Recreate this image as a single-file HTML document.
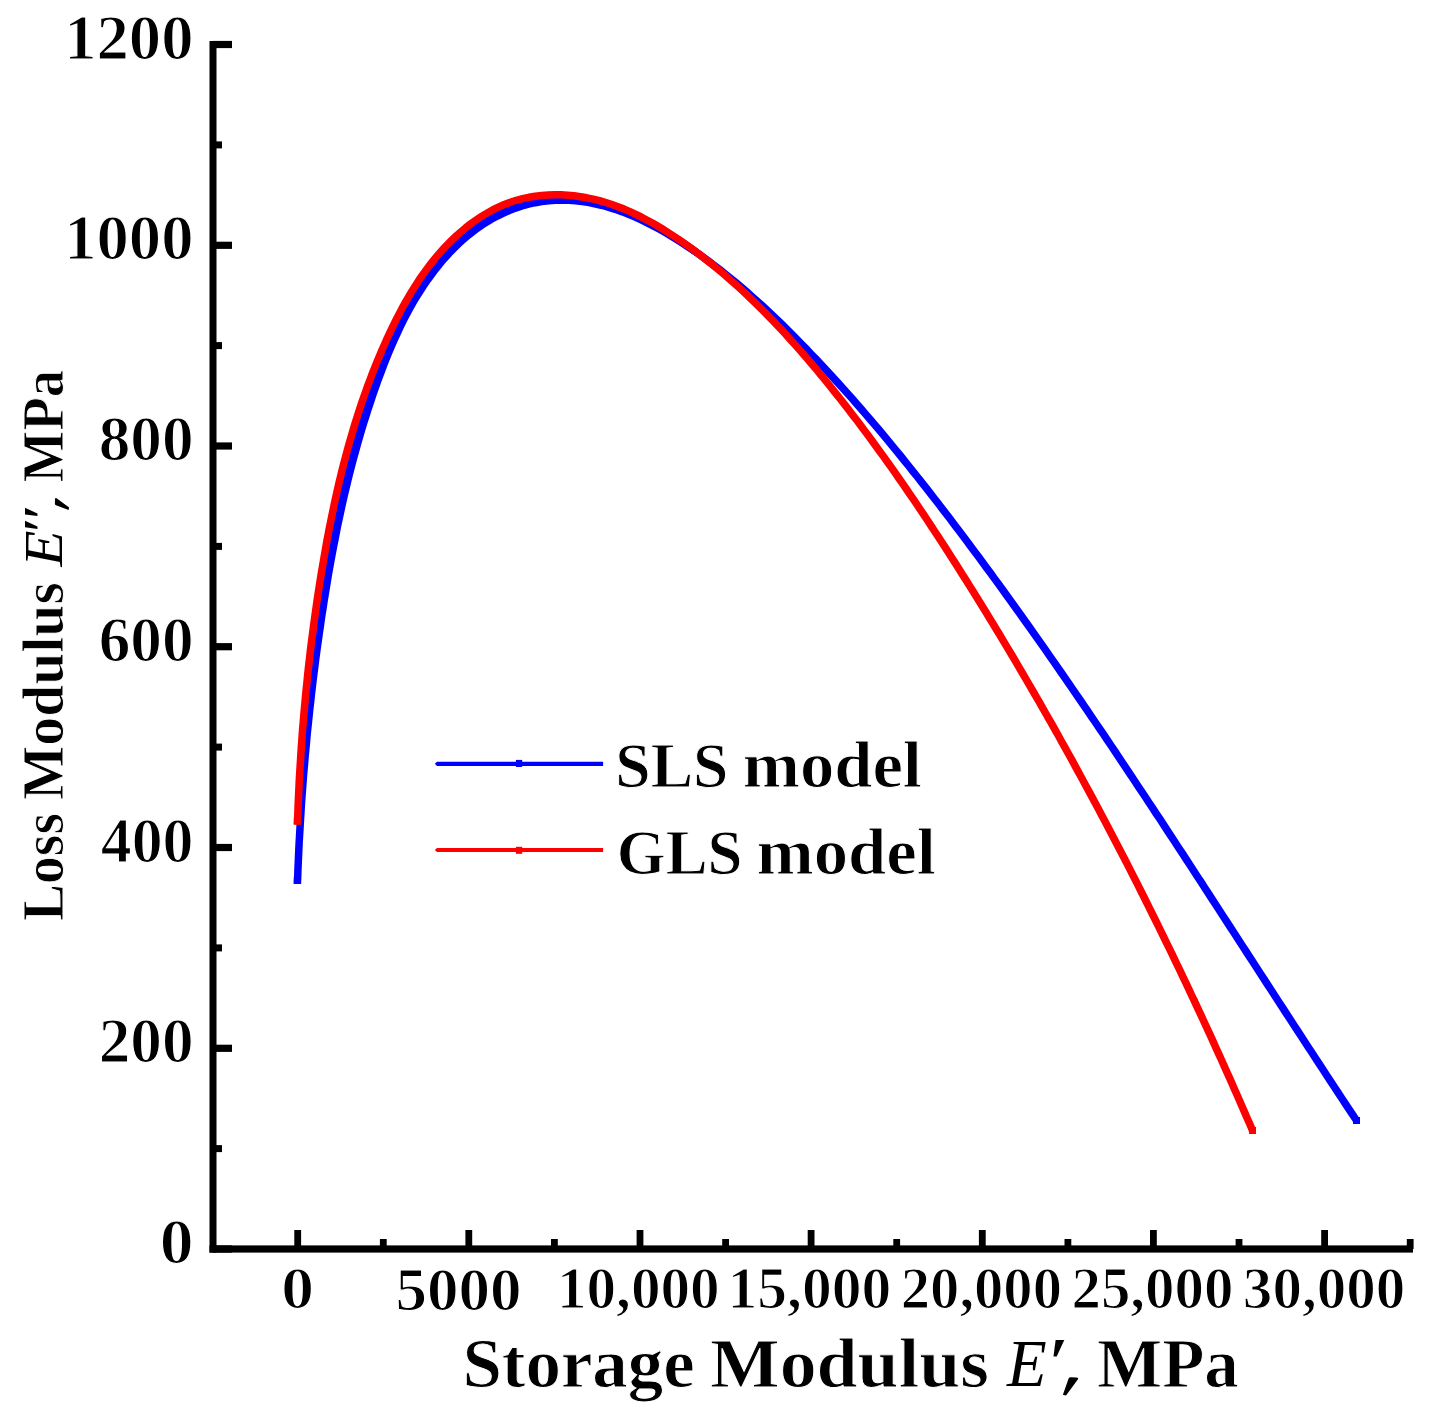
<!DOCTYPE html>
<html><head><meta charset="utf-8"><title>Cole-Cole</title>
<style>
html,body{margin:0;padding:0;background:#fff;}
body{width:1434px;height:1417px;overflow:hidden;}
svg{display:block;}
text{font-family:"Liberation Serif",serif;font-weight:bold;fill:#000;}
text.i{font-style:italic;}
text.n{font-weight:normal;}
text.t{stroke:#fff;}
</style></head><body>
<svg width="1434" height="1417" viewBox="0 0 1434 1417">
<rect x="0" y="0" width="1434" height="1417" fill="#fff"/>
<g fill="none" stroke-width="7.5" stroke-linejoin="round" stroke-linecap="butt">
<path stroke="#0000ff" d="M297.4,883.9 L297.7,877.1 L297.9,870.4 L298.2,863.6 L298.5,856.9 L298.8,850.1 L299.1,843.3 L299.5,836.6 L299.9,829.8 L300.3,823.0 L300.7,816.2 L301.1,809.5 L301.5,802.7 L302.0,795.9 L302.5,789.2 L303.0,782.4 L303.5,775.6 L304.1,768.8 L304.7,762.1 L305.2,755.3 L305.9,748.5 L306.5,741.8 L307.1,735.0 L307.8,728.2 L308.5,721.5 L309.2,714.7 L309.9,707.9 L310.7,701.2 L311.4,694.4 L312.2,687.7 L313.0,680.9 L313.8,674.2 L314.7,667.5 L315.5,660.7 L316.4,654.0 L317.3,647.2 L318.3,640.5 L319.2,633.8 L320.2,627.1 L321.1,620.4 L322.1,613.7 L323.2,607.0 L324.2,600.3 L325.3,593.6 L326.4,586.9 L327.5,580.2 L328.6,573.5 L329.8,566.8 L331.0,560.2 L332.2,553.5 L333.5,546.9 L334.8,540.2 L336.1,533.6 L337.4,526.9 L338.8,520.3 L340.2,513.7 L341.6,507.1 L343.1,500.5 L344.6,493.9 L346.2,487.3 L347.8,480.7 L349.4,474.2 L351.1,467.6 L352.8,461.1 L354.6,454.5 L356.4,448.0 L358.2,441.5 L360.1,434.9 L362.0,428.4 L364.0,421.9 L366.1,415.5 L368.1,409.0 L370.3,402.5 L372.4,396.1 L374.7,389.6 L376.9,383.2 L379.3,376.8 L381.7,370.4 L384.1,364.0 L386.6,357.6 L389.2,351.3 L391.9,345.0 L394.7,338.8 L397.5,332.6 L400.4,326.4 L403.4,320.3 L406.6,314.3 L409.8,308.3 L413.1,302.4 L416.6,296.6 L420.2,290.9 L423.9,285.2 L427.7,279.7 L431.7,274.2 L435.8,268.8 L440.0,263.6 L444.4,258.4 L448.9,253.4 L453.6,248.6 L458.5,243.8 L463.5,239.3 L468.6,234.9 L474.0,230.8 L479.4,226.8 L485.1,223.0 L490.9,219.5 L496.8,216.3 L502.9,213.3 L509.2,210.6 L515.5,208.1 L522.0,206.0 L528.5,204.2 L535.1,202.7 L541.8,201.5 L548.5,200.7 L555.3,200.3 L562.1,200.1 L568.9,200.3 L575.7,200.8 L582.4,201.6 L589.2,202.6 L595.8,204.0 L602.4,205.5 L608.9,207.3 L615.3,209.3 L621.7,211.6 L627.9,214.0 L634.1,216.6 L640.2,219.4 L646.2,222.3 L652.2,225.4 L658.1,228.5 L664.0,231.8 L669.8,235.2 L675.6,238.7 L681.3,242.3 L686.9,246.0 L692.6,249.8 L698.2,253.6 L703.7,257.6 L709.2,261.6 L714.6,265.7 L720.0,269.8 L725.4,274.1 L730.7,278.4 L736.0,282.7 L741.3,287.2 L746.5,291.6 L751.6,296.2 L756.8,300.8 L761.9,305.4 L766.9,310.1 L771.9,314.8 L776.9,319.5 L781.9,324.3 L786.8,329.2 L791.6,334.0 L796.5,338.9 L801.3,343.8 L806.1,348.7 L810.8,353.7 L815.6,358.6 L820.2,363.6 L824.9,368.6 L829.5,373.6 L834.1,378.6 L838.7,383.6 L843.3,388.7 L847.8,393.7 L852.3,398.8 L856.8,403.9 L861.2,409.0 L865.6,414.1 L870.0,419.2 L874.4,424.4 L878.8,429.5 L883.1,434.7 L887.4,439.9 L891.7,445.1 L896.0,450.3 L900.3,455.5 L904.5,460.8 L908.7,466.0 L912.9,471.3 L917.1,476.5 L921.3,481.8 L925.5,487.1 L929.6,492.4 L933.7,497.7 L937.9,503.0 L942.0,508.4 L946.1,513.7 L950.2,519.1 L954.2,524.4 L958.3,529.8 L962.4,535.2 L966.4,540.6 L970.4,546.0 L974.5,551.4 L978.5,556.8 L982.5,562.2 L986.5,567.7 L990.5,573.1 L994.5,578.6 L998.5,584.0 L1002.5,589.5 L1006.4,595.0 L1010.4,600.5 L1014.3,606.0 L1018.3,611.5 L1022.2,617.0 L1026.1,622.5 L1030.1,628.0 L1034.0,633.6 L1037.9,639.1 L1041.8,644.7 L1045.7,650.2 L1049.6,655.8 L1053.5,661.3 L1057.3,666.9 L1061.2,672.5 L1065.1,678.1 L1068.9,683.7 L1072.8,689.3 L1076.6,694.9 L1080.5,700.5 L1084.3,706.1 L1088.1,711.7 L1091.9,717.3 L1095.8,723.0 L1099.6,728.6 L1103.4,734.2 L1107.2,739.9 L1111.0,745.5 L1114.8,751.2 L1118.6,756.8 L1122.3,762.5 L1126.1,768.1 L1129.9,773.8 L1133.7,779.5 L1137.4,785.2 L1141.2,790.8 L1145.0,796.5 L1148.7,802.2 L1152.5,807.9 L1156.2,813.6 L1160.0,819.2 L1163.7,824.9 L1167.4,830.6 L1171.2,836.3 L1174.9,842.0 L1178.6,847.7 L1182.4,853.4 L1186.1,859.1 L1189.8,864.8 L1193.5,870.5 L1197.2,876.2 L1201.0,881.9 L1204.7,887.7 L1208.4,893.4 L1212.1,899.1 L1215.8,904.8 L1219.5,910.5 L1223.2,916.2 L1226.9,921.9 L1230.6,927.6 L1234.3,933.3 L1238.0,939.0 L1241.7,944.7 L1245.4,950.4 L1249.1,956.1 L1252.8,961.8 L1256.5,967.5 L1260.2,973.2 L1263.9,978.9 L1267.6,984.6 L1271.3,990.3 L1275.0,996.0 L1278.7,1001.7 L1282.4,1007.4 L1286.1,1013.1 L1289.8,1018.8 L1293.5,1024.5 L1297.2,1030.1 L1300.9,1035.8 L1304.6,1041.5 L1308.3,1047.2 L1312.0,1052.8 L1315.7,1058.5 L1319.4,1064.1 L1323.1,1069.8 L1326.8,1075.5 L1330.5,1081.1 L1334.2,1086.7 L1337.9,1092.4 L1341.6,1098.0 L1345.3,1103.6 L1349.1,1109.3 L1352.8,1114.9 L1356.5,1120.5"/>
<path stroke="#0000ff" d="M299.5,810.6 L299.8,804.0 L300.2,797.4 L300.8,787.6 L301.2,781.0 L301.6,774.4 L302.1,767.8 L302.6,761.2 L303.1,754.6 L303.6,747.9 L304.1,741.3 L304.7,734.7 L305.3,728.1 L305.9,721.5 L306.5,714.9 L307.1,708.3 L307.8,701.7 L308.5,695.1 L309.2,688.4 L309.9,681.8 L310.7,675.2 L311.5,668.6 L312.6,658.8 L313.4,652.2 L314.3,645.6 L315.1,639.0 L316.0,632.5 L316.9,625.9 L317.9,619.3 L318.8,612.7 L319.8,606.2 L320.8,599.6 L321.8,593.1 L322.8,586.5 L323.9,580.0 L325.0,573.4 L326.1,566.9 L327.2,560.4 L328.4,553.8 L329.6,547.3 L330.8,540.8 L332.0,534.3 L333.9,524.7 L335.3,518.2 L336.6,511.7 L338.0,505.3 L339.4,498.8 L340.9,492.4 L342.4,485.9 L344.0,479.5 L345.5,473.1 L347.2,466.7 L348.8,460.3 L350.5,453.9 L352.3,447.6 L354.1,441.2 L355.9,434.8 L357.8,428.5 L359.7,422.2 L362.7,412.8 L364.7,406.5 L366.8,400.2 L369.0,394.0 L371.2,387.7 L373.5,381.5 L375.8,375.2 L378.2,369.0 L380.6,362.8 L383.1,356.7 L385.7,350.5 L388.3,344.4 L391.0,338.3 L393.8,332.3 L396.7,326.2 L401.2,317.4 L404.2,311.5 L407.4,305.6 L410.7,299.8 L414.1,294.1 L417.6,288.5 L421.2,283.0 L425.0,277.5 L428.8,272.1 L432.8,266.9 L436.9,261.7 L441.2,256.7 L445.6,251.7 L450.1,246.9 L454.8,242.3 L462.1,235.6 L467.2,231.4 L472.4,227.3 L477.8,223.4 L483.3,219.7 L488.9,216.3 L494.7,213.1 L500.7,210.2 L506.7,207.5 L512.9,205.2 L522.3,202.3 L528.7,200.7 L535.2,199.4 L541.7,198.5 L548.3,197.8 L554.9,197.5 L561.6,197.5 L568.2,197.8 L574.8,198.3 L581.4,199.1 L591.2,200.9 L597.7,202.3 L604.1,204.0 L610.4,205.9 L616.7,208.0 L622.9,210.3 L628.9,212.8 L635.0,215.5 L640.9,218.3 L646.7,221.2 L652.5,224.3 L658.3,227.5 L663.9,230.8 L669.5,234.3 L675.1,237.8 L680.6,241.4 L686.1,245.0 L691.5,248.8 L696.9,252.6"/>
<rect x="1353" y="1117" width="7" height="7" fill="#0000ff" stroke="none"/>
<rect x="293.8" y="876.9" width="7.2" height="7" fill="#0000ff" stroke="none"/>
<path stroke="#ff0000" d="M297.4,824.6 L297.7,818.2 L297.9,811.8 L298.1,805.3 L298.4,798.9 L298.7,792.5 L299.0,786.1 L299.3,779.6 L299.7,773.2 L300.1,766.7 L300.5,760.3 L300.9,753.8 L301.3,747.4 L301.8,740.9 L302.2,734.4 L302.7,728.0 L303.3,721.5 L303.8,715.1 L304.4,708.6 L305.0,702.1 L305.6,695.7 L306.2,689.2 L306.9,682.8 L307.5,676.3 L308.2,669.8 L308.9,663.4 L309.7,656.9 L310.4,650.5 L311.2,644.0 L312.0,637.6 L312.9,631.1 L313.7,624.7 L314.6,618.2 L315.5,611.8 L316.4,605.4 L317.3,599.0 L318.3,592.5 L319.3,586.1 L320.3,579.7 L321.3,573.3 L322.4,566.9 L323.5,560.6 L324.6,554.2 L325.7,547.8 L326.8,541.4 L328.0,535.1 L329.2,528.7 L330.5,522.4 L331.8,516.1 L333.1,509.7 L334.4,503.4 L335.8,497.1 L337.2,490.8 L338.6,484.6 L340.1,478.3 L341.6,472.0 L343.2,465.8 L344.8,459.6 L346.5,453.3 L348.2,447.1 L349.9,440.9 L351.7,434.7 L353.5,428.6 L355.4,422.4 L357.3,416.3 L359.3,410.1 L361.3,404.0 L363.4,397.9 L365.6,391.8 L367.7,385.8 L370.0,379.7 L372.3,373.7 L374.7,367.7 L377.1,361.7 L379.6,355.7 L382.1,349.7 L384.8,343.8 L387.4,337.8 L390.2,331.9 L393.0,326.1 L395.9,320.2 L398.9,314.4 L401.9,308.6 L405.1,302.9 L408.3,297.3 L411.6,291.7 L415.1,286.2 L418.6,280.7 L422.2,275.4 L426.0,270.1 L429.9,264.9 L433.9,259.9 L438.0,254.9 L442.3,250.1 L446.7,245.3 L451.2,240.7 L455.9,236.3 L460.7,232.0 L465.7,227.8 L470.8,223.8 L476.1,220.0 L481.5,216.4 L487.0,213.1 L492.6,209.9 L498.4,207.1 L504.3,204.5 L510.3,202.3 L516.4,200.3 L522.6,198.7 L528.9,197.3 L535.3,196.2 L541.7,195.5 L548.1,195.0 L554.6,194.8 L561.1,194.8 L567.5,195.2 L574.0,195.8 L580.4,196.7 L586.8,197.8 L593.2,199.2 L599.5,200.7 L605.8,202.5 L611.9,204.5 L618.0,206.7 L624.1,209.1 L630.0,211.6 L635.8,214.3 L641.6,217.2 L647.2,220.2 L652.9,223.3 L658.4,226.5 L663.9,229.8 L669.3,233.3 L674.7,236.8 L680.0,240.4 L685.3,244.1 L690.5,247.8 L695.7,251.6 L700.8,255.5 L705.9,259.5 L711.0,263.5 L716.0,267.6 L720.9,271.7 L725.9,275.9 L730.7,280.2 L735.6,284.5 L740.4,288.8 L745.2,293.2 L749.9,297.7 L754.6,302.2 L759.2,306.8 L763.8,311.4 L768.4,316.0 L772.9,320.7 L777.4,325.5 L781.9,330.2 L786.3,335.0 L790.7,339.9 L795.1,344.7 L799.4,349.6 L803.7,354.6 L808.0,359.5 L812.2,364.5 L816.5,369.5 L820.6,374.6 L824.8,379.6 L828.9,384.7 L833.0,389.8 L837.0,394.9 L841.1,400.0 L845.1,405.1 L849.1,410.2 L853.0,415.4 L857.0,420.5 L860.9,425.7 L864.7,430.9 L868.6,436.1 L872.4,441.3 L876.2,446.5 L880.0,451.7 L883.8,456.9 L887.6,462.2 L891.3,467.4 L895.0,472.7 L898.7,478.0 L902.3,483.2 L906.0,488.5 L909.6,493.8 L913.3,499.1 L916.9,504.5 L920.4,509.8 L924.0,515.1 L927.6,520.5 L931.1,525.9 L934.6,531.2 L938.2,536.6 L941.7,542.0 L945.2,547.4 L948.6,552.8 L952.1,558.2 L955.6,563.6 L959.0,569.0 L962.4,574.5 L965.9,579.9 L969.3,585.4 L972.7,590.8 L976.1,596.3 L979.5,601.8 L982.9,607.3 L986.3,612.8 L989.6,618.3 L993.0,623.8 L996.3,629.3 L999.7,634.8 L1003.0,640.4 L1006.3,645.9 L1009.7,651.5 L1013.0,657.0 L1016.3,662.6 L1019.5,668.2 L1022.8,673.7 L1026.1,679.3 L1029.3,684.9 L1032.6,690.5 L1035.8,696.1 L1039.1,701.7 L1042.3,707.4 L1045.5,713.0 L1048.7,718.6 L1051.9,724.2 L1055.1,729.9 L1058.3,735.5 L1061.4,741.2 L1064.6,746.9 L1067.7,752.5 L1070.9,758.2 L1074.0,763.9 L1077.1,769.6 L1080.2,775.3 L1083.3,781.0 L1086.4,786.7 L1089.5,792.4 L1092.6,798.1 L1095.6,803.8 L1098.7,809.6 L1101.7,815.3 L1104.8,821.0 L1107.8,826.8 L1110.8,832.5 L1113.8,838.3 L1116.8,844.0 L1119.8,849.8 L1122.8,855.5 L1125.8,861.3 L1128.8,867.1 L1131.7,872.9 L1134.7,878.7 L1137.6,884.4 L1140.5,890.2 L1143.4,896.0 L1146.3,901.8 L1149.2,907.6 L1152.1,913.5 L1155.0,919.3 L1157.9,925.1 L1160.7,930.9 L1163.6,936.7 L1166.4,942.6 L1169.3,948.4 L1172.1,954.2 L1174.9,960.1 L1177.7,965.9 L1180.5,971.7 L1183.3,977.6 L1186.1,983.4 L1188.9,989.3 L1191.6,995.2 L1194.4,1001.0 L1197.1,1006.9 L1199.8,1012.7 L1202.6,1018.6 L1205.3,1024.5 L1208.0,1030.4 L1210.7,1036.2 L1213.4,1042.1 L1216.0,1048.0 L1218.7,1053.9 L1221.4,1059.8 L1224.0,1065.6 L1226.6,1071.5 L1229.3,1077.4 L1231.9,1083.3 L1234.5,1089.2 L1237.1,1095.1 L1239.7,1101.0 L1242.3,1106.9 L1244.8,1112.8 L1247.4,1118.7 L1250.0,1124.6 L1252.5,1130.5"/>
<rect x="1249" y="1127" width="7" height="7" fill="#ff0000" stroke="none"/>
<rect x="293.8" y="817.6" width="7.2" height="7" fill="#ff0000" stroke="none"/>
</g>
<g fill="#000">
<rect x="209.5" y="41" width="7" height="1211.6"/>
<rect x="209.5" y="1245.4" width="1203.5" height="7.2"/>
<rect x="213" y="1245.4" width="19" height="7.2"/>
<rect x="213" y="1145.1" width="9" height="7"/>
<rect x="213" y="1044.7" width="19" height="7.2"/>
<rect x="213" y="944.4" width="9" height="7"/>
<rect x="213" y="843.9" width="19" height="7.2"/>
<rect x="213" y="743.6" width="9" height="7"/>
<rect x="213" y="643.1" width="19" height="7.2"/>
<rect x="213" y="542.9" width="9" height="7"/>
<rect x="213" y="442.4" width="19" height="7.2"/>
<rect x="213" y="342.1" width="9" height="7"/>
<rect x="213" y="241.7" width="19" height="7.2"/>
<rect x="213" y="141.4" width="9" height="7"/>
<rect x="213" y="40.9" width="19" height="7.2"/>
<rect x="294.3" y="1230" width="6.8" height="19"/>
<rect x="379.9" y="1239" width="6.8" height="10"/>
<rect x="465.4" y="1230" width="6.8" height="19"/>
<rect x="551.0" y="1239" width="6.8" height="10"/>
<rect x="636.6" y="1230" width="6.8" height="19"/>
<rect x="722.2" y="1239" width="6.8" height="10"/>
<rect x="807.7" y="1230" width="6.8" height="19"/>
<rect x="893.3" y="1239" width="6.8" height="10"/>
<rect x="978.9" y="1230" width="6.8" height="19"/>
<rect x="1064.5" y="1239" width="6.8" height="10"/>
<rect x="1150.0" y="1230" width="6.8" height="19"/>
<rect x="1235.6" y="1239" width="6.8" height="10"/>
<rect x="1321.2" y="1230" width="6.8" height="19"/>
<rect x="1406.8" y="1239" width="6.8" height="10"/>
</g>
<g>
<text class="t" stroke-width="1.2" font-size="62" transform="translate(64.24,58.70) scale(1.0426,1.0205)">1200</text>
<text class="t" stroke-width="1.2" font-size="62" transform="translate(64.24,259.45) scale(1.0426,1.0205)">1000</text>
<text class="t" stroke-width="1.2" font-size="62" transform="translate(98.64,460.20) scale(1.0207,1.0205)">800</text>
<text class="t" stroke-width="1.2" font-size="62" transform="translate(98.64,660.95) scale(1.0207,1.0205)">600</text>
<text class="t" stroke-width="1.2" font-size="62" transform="translate(100.70,861.70) scale(0.9978,1.0205)">400</text>
<text class="t" stroke-width="1.2" font-size="62" transform="translate(98.64,1062.45) scale(1.0207,1.0205)">200</text>
<text class="t" stroke-width="1.2" font-size="62" transform="translate(159.72,1263.20) scale(1.0920,1.0205)">0</text>
<text class="t" stroke-width="1.2" font-size="58" transform="translate(281.21,1308.10) scale(1.1304,1.0243)">0</text>
<text class="t" stroke-width="1.2" font-size="61" transform="translate(395.40,1310.30) scale(1.0336,1.0179)">5000</text>
<text class="t" stroke-width="1.2" font-size="58" transform="translate(556.89,1307.60) scale(1.0211,1.0081)">10,000</text>
<text class="t" stroke-width="1.2" font-size="58" transform="translate(727.46,1307.60) scale(1.0276,1.0081)">15,000</text>
<text class="t" stroke-width="1.2" font-size="58" transform="translate(900.77,1307.60) scale(1.0110,1.0081)">20,000</text>
<text class="t" stroke-width="1.2" font-size="58" transform="translate(1071.45,1307.60) scale(1.0156,1.0081)">25,000</text>
<text class="t" stroke-width="1.2" font-size="58" transform="translate(1242.84,1307.60) scale(1.0188,1.0081)">30,000</text>
<text class="t" stroke-width="0.9" font-size="66" transform="translate(462.40,1386.76) scale(1.0743,1.0585)">Storage</text>
<text class="t" stroke-width="0.9" font-size="66" transform="translate(710.06,1386.76) scale(1.1180,1.0585)">Modulus</text>
<text class="i n" font-size="66" transform="translate(1006.99,1385.70) scale(0.9850,1.0116)">E</text>
<text class="i n" font-size="66" transform="translate(1043.56,1385.58) scale(1.3625,1.0438)">′</text>
<text class="t" stroke-width="0.9" font-size="66" transform="translate(1097.01,1386.75) scale(1.0455,1.0537)">MPa</text>
<text class="t" stroke-width="0.9" font-size="60" transform="translate(615.36,786.86) scale(1.0590,1.0649)">SLS</text>
<text class="t" stroke-width="0.9" font-size="60" transform="translate(742.81,786.89) scale(1.1438,1.0949)">model</text>
<text class="t" stroke-width="0.9" font-size="60" transform="translate(616.86,873.66) scale(1.0465,1.0649)">GLS</text>
<text class="t" stroke-width="0.9" font-size="60" transform="translate(756.41,873.69) scale(1.1451,1.0949)">model</text>
<path d="M1068.6,1378.6 Q1069.2,1377.2 1071,1377.3 L1076.6,1377.4 Q1078.8,1377.6 1077.8,1379.4 L1066,1395.4 L1062.9,1394.8 Z" fill="#000"/>
</g>
<g transform="translate(62.2,918.9) rotate(-90)">
<text class="t" stroke-width="0.9" font-size="55" transform="translate(-2.02,1.06) scale(1.0087,1.0618)">Loss</text>
<text class="t" stroke-width="0.9" font-size="55" transform="translate(118.80,1.06) scale(1.0490,1.0618)">Modulus</text>
<text class="i n" font-size="55" transform="translate(352.47,0.00) scale(1.0706,1.0028)">E</text>
<text class="i n" font-size="55" transform="translate(382.02,-2.26) scale(1.2471,0.9538)">″</text>
<text class="t" stroke-width="0.9" font-size="55" transform="translate(436.31,1.06) scale(0.9972,1.0618)">MPa</text>
<path d="M413.6,-6.2 Q414,-7.4 415.4,-7.3 L419.6,-7.2 Q421.4,-7 420.6,-5.6 L411.4,6.9 L409,6.4 Z" fill="#000"/>
</g>
<g>
<polygon points="434.8,763.8 437,761.7 603.1,761.7 603.1,765.9 437,765.9" fill="#0000ff"/><rect x="515.9" y="759.9" width="6.3" height="7.1" fill="#0000ff"/>
<polygon points="434.8,850 437,847.9 603.1,847.9 603.1,852.1 437,852.1" fill="#ff0000"/><rect x="515.9" y="846.8" width="6.3" height="7" fill="#ff0000"/>
</g>
</svg>
</body></html>
